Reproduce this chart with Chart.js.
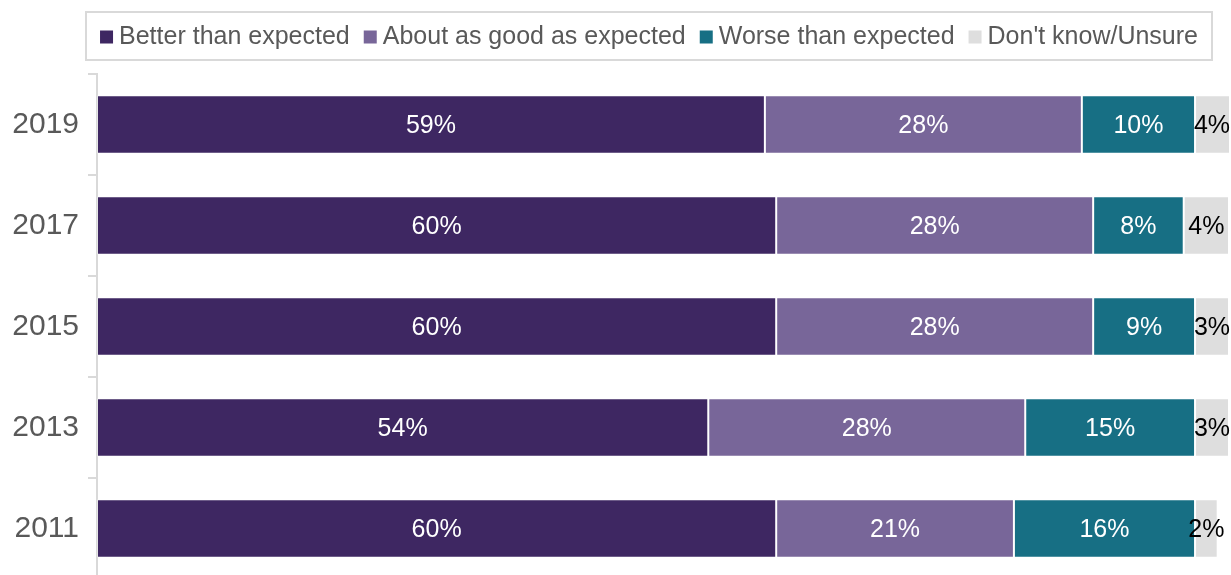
<!DOCTYPE html>
<html>
<head>
<meta charset="utf-8">
<title>Experience vs expectations</title>
<script src="https://cdn.jsdelivr.net/npm/chart.js@4/dist/chart.umd.min.js"></script>
<style>
  body { margin: 0; background: #fff; overflow: hidden; }
  #wrap { width: 1231px; height: 580px; }
</style>
</head>
<body>
<div id="wrap"><canvas id="chart"></canvas></div>
<script>
const years = ["2019", "2017", "2015", "2013", "2011"];
const seriesNames = ["Better than expected", "About as good as expected", "Worse than expected", "Don't know/Unsure"];
const better = [59, 60, 60, 54, 60];
const aboutAsGood = [28, 28, 28, 28, 21];
const worse = [10, 8, 9, 15, 16];
const unsure = [4, 4, 3, 3, 2];
const colors = ["#3e2762", "#786699", "#176f84", "#dedede"];
const labelColors = ["#ffffff", "#ffffff", "#ffffff", "#000000"];

const FONT = '"Liberation Sans", Arial, sans-serif';
const TEXT_GREY = "#595959";
const LINE_GREY = "#d9d9d9";

// legend row inside a thin grey frame, drawn above the plot
const boxedLegend = {
  id: "boxedLegend",
  afterDraw(chart) {
    const ctx = chart.ctx;
    const box = { x: 86, y: 12, w: 1126, h: 48 };
    const sq = 13, gapText = 6, gapItem = 14;
    ctx.save();
    ctx.strokeStyle = LINE_GREY;
    ctx.lineWidth = 2;
    ctx.strokeRect(box.x, box.y, box.w, box.h);

    ctx.font = "25px " + FONT;
    ctx.textBaseline = "middle";
    ctx.textAlign = "left";
    const items = chart.data.datasets.map(ds => ({
      text: ds.label,
      color: ds.backgroundColor,
      w: ctx.measureText(ds.label).width
    }));
    let total = items.reduce((s, it) => s + sq + gapText + it.w, 0) + gapItem * (items.length - 1);
    let x = box.x + box.w / 2 - total / 2;
    const cy = box.y + box.h / 2 + 1;
    items.forEach(it => {
      ctx.fillStyle = it.color;
      ctx.fillRect(x, cy - sq / 2, sq, sq);
      x += sq + gapText;
      ctx.fillStyle = TEXT_GREY;
      ctx.fillText(it.text, x, cy);
      x += it.w + gapItem;
    });
    ctx.restore();
  }
};

// percentage text centred in each bar segment
const segmentLabels = {
  id: "segmentLabels",
  afterDatasetsDraw(chart) {
    const ctx = chart.ctx;
    const area = chart.chartArea;
    ctx.save();
    ctx.font = "25px " + FONT;
    ctx.textAlign = "center";
    ctx.textBaseline = "middle";
    chart.data.datasets.forEach((ds, i) => {
      const meta = chart.getDatasetMeta(i);
      meta.data.forEach((bar, j) => {
        const end = Math.min(bar.x, area.right);
        const cx = (bar.base + end) / 2;
        ctx.fillStyle = labelColors[i];
        ctx.fillText(ds.data[j] + "%", cx, bar.y + 2);
      });
    });
    ctx.restore();
  }
};

const seriesValues = [better, aboutAsGood, worse, unsure];

new Chart(document.getElementById("chart"), {
  type: "bar",
  data: {
    labels: years,
    datasets: seriesValues.map((vals, i) => ({
      label: seriesNames[i],
      data: vals,
      backgroundColor: colors[i],
      borderColor: "rgba(255,255,255,0.35)",
      borderWidth: 1,
      borderSkipped: false,
      barPercentage: 0.58,
      categoryPercentage: 1
    }))
  },
  options: {
    indexAxis: "y",
    responsive: true,
    maintainAspectRatio: false,
    animation: false,
    layout: { padding: { top: 74, right: 2, bottom: 1, left: 0 } },
    plugins: {
      legend: { display: false },
      tooltip: { enabled: false }
    },
    scales: {
      x: {
        stacked: true,
        min: 0,
        max: 100,
        display: false
      },
      y: {
        stacked: true,
        afterFit(scale) {
          scale.width = 97;
          // the plot runs past the bottom edge, so no room is kept for label overhang
          scale.paddingTop = 0;
          scale.paddingBottom = 0;
        },
        grid: {
          drawOnChartArea: false,
          drawTicks: true,
          tickLength: 9,
          color: LINE_GREY,
          lineWidth: 2
        },
        border: { display: true, color: LINE_GREY, width: 2 },
        ticks: {
          color: TEXT_GREY,
          padding: 9,
          font: { family: FONT, size: 30 }
        }
      }
    }
  },
  plugins: [boxedLegend, segmentLabels]
});
</script>
</body>
</html>
